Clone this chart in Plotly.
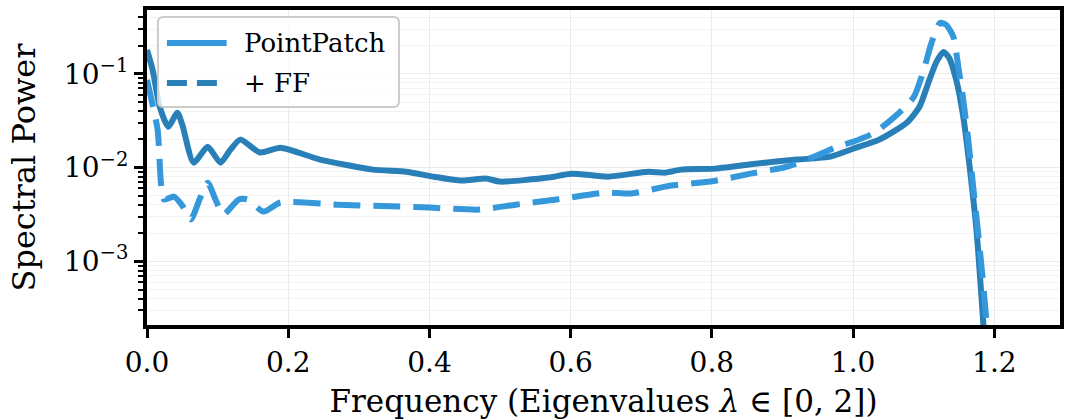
import plotly.graph_objects as go

# PointPatch (solid)
x_pp = [0.0, 0.008, 0.018, 0.03, 0.043, 0.05, 0.066, 0.086, 0.104, 0.118, 0.132, 0.16, 0.189,
        0.245, 0.32, 0.367, 0.405, 0.446, 0.48, 0.50, 0.569, 0.601, 0.653, 0.71, 0.734, 0.756,
        0.804, 0.875, 0.921, 0.968, 1.0, 1.037, 1.076, 1.094, 1.108, 1.118, 1.128, 1.136,
        1.146, 1.156, 1.165, 1.175, 1.182, 1.186]
y_pp = [0.18, 0.11, 0.0446, 0.0273, 0.0385, 0.0286, 0.0113, 0.0167, 0.0113, 0.0155, 0.0199,
        0.0145, 0.0163, 0.0122, 0.00952, 0.00906, 0.00802, 0.00728, 0.00764, 0.0071, 0.00783,
        0.00863, 0.00802, 0.00906, 0.00885, 0.00952, 0.00976, 0.0113, 0.0122, 0.0131, 0.0159,
        0.0199, 0.0301, 0.0446, 0.0863, 0.134, 0.171, 0.148, 0.0863, 0.0349, 0.01026, 0.00204,
        0.000394, 0.000148]

# + FF (dashed)
x_ff = [0.0, 0.015, 0.024, 0.038, 0.049, 0.062, 0.075, 0.086, 0.097, 0.108, 0.13, 0.142, 0.165,
        0.189, 0.27, 0.358, 0.40, 0.47, 0.522, 0.58, 0.649, 0.686, 0.742, 0.798, 0.855, 0.907,
        0.945, 0.977, 1.0, 1.03, 1.062, 1.086, 1.1, 1.111, 1.123, 1.132, 1.142, 1.149, 1.156,
        1.163, 1.17, 1.177, 1.184, 1.189, 1.192]
y_ff = [0.086, 0.0254, 0.00457, 0.00491, 0.00404, 0.0028, 0.0047, 0.00692, 0.00457, 0.00316,
        0.00457, 0.00457, 0.0034, 0.00425, 0.00403, 0.00384, 0.00375, 0.00357, 0.00403, 0.00457,
        0.00542, 0.0053, 0.00644, 0.0071, 0.00863, 0.01026, 0.0131, 0.0167, 0.0189, 0.0235,
        0.0366, 0.0569, 0.11, 0.214, 0.349, 0.332, 0.248, 0.119, 0.0529, 0.0199, 0.00628,
        0.00204, 0.000598, 0.000224, 0.00012]

x_ticks = [0.0, 0.2, 0.4, 0.6, 0.8, 1.0, 1.2]
y_ticks = [1e-3, 1e-2, 1e-1]
y_ticktext = ["10<sup>−3</sup>", "10<sup>−2</sup>", "10<sup>−1</sup>"]
series_names = ["PointPatch", "+ FF"]

DARK = "#2980b9"
LIGHT = "#3498db"
FONT = "DejaVu Serif"

fig = go.Figure()
fig.add_trace(go.Scatter(x=x_pp, y=y_pp, mode="lines", name=series_names[0], showlegend=False,
                         line=dict(color=DARK, width=6, shape="spline", smoothing=0.6)))
fig.add_trace(go.Scatter(x=x_ff, y=y_ff, mode="lines", name=series_names[1], showlegend=False,
                         line=dict(color=LIGHT, width=6, dash="27px,13px", shape="spline", smoothing=0.6)))

# manual legend (paper coordinates), colours as in the reference legend
L, R, T, B = 0.012, 0.276, 0.978, 0.692
rx, ry = 0.006, 0.018
box_path = (f"M{L+rx},{T} L{R-rx},{T} Q{R},{T} {R},{T-ry} L{R},{B+ry} Q{R},{B} {R-rx},{B} "
            f"L{L+rx},{B} Q{L},{B} {L},{B+ry} L{L},{T-ry} Q{L},{T} {L+rx},{T} Z")
shapes = [
    dict(type="path", xref="paper", yref="paper", path=box_path, layer="above",
         fillcolor="rgba(255,255,255,0.8)", line=dict(color="#cccccc", width=2)),
    dict(type="line", xref="paper", yref="paper", x0=0.0218, x1=0.0872, y0=0.895, y1=0.895,
         layer="above", line=dict(color=LIGHT, width=6)),
    dict(type="line", xref="paper", yref="paper", x0=0.0218, x1=0.0872, y0=0.768, y1=0.768,
         layer="above", line=dict(color=DARK, width=6, dash="20px,10px")),
]
annotations = [
    dict(xref="paper", yref="paper", x=0.104, y=0.895, text=series_names[0], showarrow=False,
         xanchor="left", yanchor="middle", font=dict(family=FONT, size=26, color="black")),
    dict(xref="paper", yref="paper", x=0.104, y=0.768, text=series_names[1], showarrow=False,
         xanchor="left", yanchor="middle", font=dict(family=FONT, size=26, color="black")),
]

fig.update_layout(
    width=1067, height=420,
    margin=dict(l=147, r=3, t=10, b=95),
    paper_bgcolor="white", plot_bgcolor="white",
    font=dict(family=FONT, size=28, color="black"),
    showlegend=False, shapes=shapes, annotations=annotations,
)
fig.update_xaxes(
    range=[0, 1.293], tickvals=x_ticks, ticktext=[f"{v:.1f}" for v in x_ticks],
    showline=True, linecolor="black", linewidth=4, mirror=True,
    ticks="outside", ticklen=9, tickwidth=3, tickcolor="black",
    showgrid=True, gridcolor="#ebebeb", gridwidth=1, zeroline=False,
    title=dict(text="Frequency (Eigenvalues <i>λ</i> ∈ [0, 2])", standoff=14, font=dict(size=31)),
    tickfont=dict(size=28),
)
fig.update_yaxes(
    type="log", range=[-3.678, -0.319], tickvals=y_ticks, ticktext=y_ticktext,
    showline=True, linecolor="black", linewidth=4, mirror=True,
    ticks="outside", ticklen=9, tickwidth=3, tickcolor="black",
    showgrid=True, gridcolor="#ebebeb", gridwidth=1, zeroline=False,
    minor=dict(ticks="outside", ticklen=5, tickwidth=2, tickcolor="black",
               showgrid=True, gridcolor="#f3f3f3", gridwidth=1, dtick="D1"),
    title=dict(text="Spectral Power", standoff=20, font=dict(size=32)),
    tickfont=dict(size=28),
)

fig.write_html("out.html")
